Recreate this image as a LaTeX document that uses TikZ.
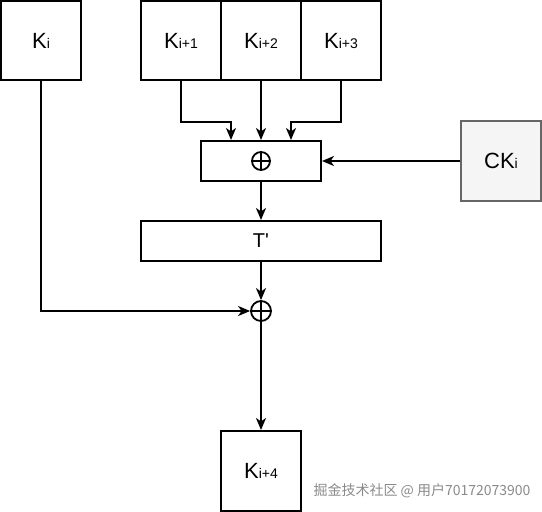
\documentclass[tikz,border=0pt]{standalone}
\usepackage{fontspec}
\setmainfont{Liberation Sans}
\newfontfamily\lsplain{Liberation Sans}[Ligatures=TeXOff]
\newfontfamily\cjk{Noto Sans CJK SC}
\usetikzlibrary{arrows.meta,calc}
\definecolor{ckfill}{HTML}{F5F5F5}
\definecolor{ckdraw}{HTML}{666666}
\definecolor{wm}{HTML}{8A8A8A}
\newcommand{\kk}[2][K]{{\fontsize{22}{26}\selectfont #1}{\fontsize{14}{16}\selectfont #2}}
\begin{document}
\begin{tikzpicture}[x=1pt,y=-1pt,
  box/.style={draw,line width=2pt,rectangle,inner sep=0pt,minimum width=80pt,minimum height=79pt},
  bar/.style={draw,line width=2pt,rectangle,inner sep=0pt,minimum height=40pt},
  arr/.style={line width=2pt,-{Stealth[length=12pt,width=10pt,inset=3.5pt]}},
  ln/.style={line width=1.8pt}]
\useasboundingbox (0,0) rectangle (542,512);
\node[box] (ki) at (41,40.5) {\kk{i}};
\node[box] (k1) at (181,40.5) {\kk{i+1}};
\node[box] (k2) at (261,40.5) {\kk{i+2}};
\node[box] (k3) at (341,40.5) {\kk{i+3}};
\node[bar,minimum width=120pt] (xor) at (261,161) {};
\node[circle,draw,line width=1.8pt,minimum size=18pt,inner sep=0pt] (xs) at (xor.center) {};
\draw[ln] (xs.north) -- (xs.south) (xs.west) -- (xs.east);
\node[box,minimum height=80pt,fill=ckfill,draw=ckdraw,line width=1.5pt] (ck) at (501,161) {\kk[CK]{i}};
\node[bar,minimum width=240pt] (tp) at (261,241) {\lsplain\fontsize{20}{24}\selectfont T'};
\node[circle,draw,line width=1.8pt,minimum size=20pt,inner sep=0pt] (ox) at (261,311) {};
\draw[ln] (ox.north) -- (ox.south) (ox.west) -- (ox.east);
\node[box,minimum height=80pt] (k4) at (261,471) {\kk{i+4}};
\draw[arr] (k1.south) -- ++(0,41) -| ([xshift=-30pt]xor.north);
\draw[arr] (k2.south) -- (xor.north);
\draw[arr] (k3.south) -- ++(0,41) -| ([xshift=30pt]xor.north);
\draw[arr] (ck.west) -- (xor.east);
\draw[arr] (xor.south) -- (tp.north);
\draw[arr] (tp.south) -- (ox.north);
\draw[arr] (ki.south) |- (ox.west);
\draw[arr] (ox.south) -- (k4.north);
\node[text=wm,inner sep=0pt] (wmk) at (422,491) {\cjk\fontsize{14}{16}\selectfont 掘金技术社区 @ 用户70172073900};
\end{tikzpicture}
\end{document}
